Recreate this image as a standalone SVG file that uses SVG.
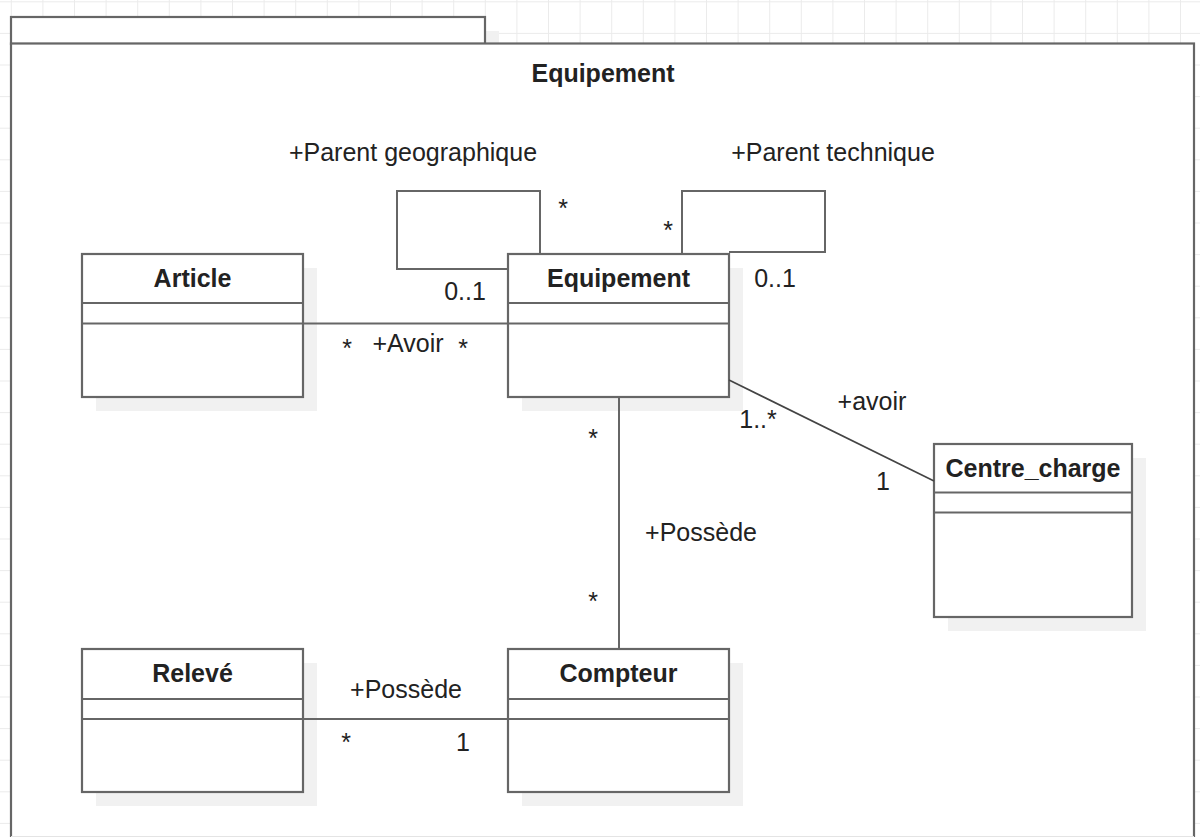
<svg xmlns="http://www.w3.org/2000/svg" width="1200" height="837" viewBox="0 0 1200 837">
  <style>
    .box { fill: #ffffff; stroke: #666666; stroke-width: 2.2; }
    .div { stroke: #666666; stroke-width: 2.2; fill: none; }
    .shadow { fill: #f1f1f1; stroke: none; }
    .conn { stroke: #666666; stroke-width: 2; fill: none; }
    .diag { stroke: #444444; stroke-width: 1.6; fill: none; }
    .hdr { font-family: "Liberation Sans", Arial, sans-serif; font-size: 25px; font-weight: bold; fill: #222222; text-anchor: middle; }
    .lbl { font-family: "Liberation Sans", Arial, sans-serif; font-size: 25px; fill: #222222; text-anchor: middle; }
  </style>
  <defs>
    <pattern id="grid" patternUnits="userSpaceOnUse" x="10.8" y="1.3" width="31.6" height="31.6">
      <path d="M0.5 0 V31.6 M0 0.5 H31.6" stroke="#ebebeb" stroke-width="1" fill="none"/>
    </pattern>
  </defs>

  <rect x="0" y="0" width="1200" height="837" fill="#ffffff"/>
  <rect x="0" y="0" width="1200" height="837" fill="url(#grid)"/>

  <g id="package">
    <rect class="shadow" x="485" y="31" width="14" height="13"/>
    <rect class="box" x="11" y="17" width="474" height="27"/>
    <rect class="box" x="11" y="43.5" width="1183" height="900"/>
    <line x1="11" y1="836.5" x2="1194" y2="836.5" stroke="#e4e4e4" stroke-width="1"/>
    <text class="hdr" x="603" y="82">Equipement</text>
  </g>

  <g id="shadows">
    <rect class="shadow" x="96" y="268" width="221" height="143"/>
    <rect class="shadow" x="522" y="268" width="221" height="143"/>
    <rect class="shadow" x="948" y="458" width="198" height="173"/>
    <rect class="shadow" x="96" y="663" width="221" height="143"/>
    <rect class="shadow" x="522" y="663" width="221" height="143"/>
  </g>

  <g id="article">
    <rect class="box" x="82" y="254" width="221" height="143"/>
    <line class="div" x1="82" y1="303" x2="303" y2="303"/>
    <line class="div" x1="82" y1="323.5" x2="303" y2="323.5"/>
    <text class="hdr" x="192.5" y="287">Article</text>
  </g>

  <g id="equipement">
    <rect class="box" x="508" y="254" width="221" height="143"/>
    <line class="div" x1="508" y1="303" x2="729" y2="303"/>
    <line class="div" x1="508" y1="323.5" x2="729" y2="323.5"/>
    <text class="hdr" x="618.5" y="287">Equipement</text>
  </g>

  <g id="centre_charge">
    <rect class="box" x="934" y="444" width="198" height="173"/>
    <line class="div" x1="934" y1="492.5" x2="1132" y2="492.5"/>
    <line class="div" x1="934" y1="512.5" x2="1132" y2="512.5"/>
    <text class="hdr" x="1033" y="477">Centre_charge</text>
  </g>

  <g id="releve">
    <rect class="box" x="82" y="649" width="221" height="143"/>
    <line class="div" x1="82" y1="699" x2="303" y2="699"/>
    <line class="div" x1="82" y1="719" x2="303" y2="719"/>
    <text class="hdr" x="192.5" y="682">Relevé</text>
  </g>

  <g id="compteur">
    <rect class="box" x="508" y="649" width="221" height="143"/>
    <line class="div" x1="508" y1="699" x2="729" y2="699"/>
    <line class="div" x1="508" y1="719" x2="729" y2="719"/>
    <text class="hdr" x="618.5" y="682">Compteur</text>
  </g>

  <g id="connectors">
    <path class="conn" d="M540 254 V191 H397 V269 H508"/>
    <path class="conn" d="M682 254 V191 H825 V252 H729"/>
    <line class="conn" x1="303" y1="323.5" x2="508" y2="323.5"/>
    <line class="conn" x1="619" y1="397" x2="619" y2="649"/>
    <line class="diag" x1="729" y1="380" x2="934" y2="481"/>
    <line class="conn" x1="303" y1="719" x2="508" y2="719"/>

    <text class="lbl" x="413" y="161">+Parent geographique</text>
    <text class="lbl" x="833" y="161">+Parent technique</text>
    <text class="lbl" x="563" y="217">*</text>
    <text class="lbl" x="668" y="239">*</text>
    <text class="lbl" x="465" y="300">0..1</text>
    <text class="lbl" x="775" y="287">0..1</text>

    <text class="lbl" x="347" y="357">*</text>
    <text class="lbl" x="408" y="352">+Avoir</text>
    <text class="lbl" x="463" y="357">*</text>

    <text class="lbl" x="593" y="447">*</text>
    <text class="lbl" x="701" y="541">+Possède</text>
    <text class="lbl" x="593" y="610">*</text>

    <text class="lbl" x="872" y="410">+avoir</text>
    <text class="lbl" x="758" y="428">1..*</text>
    <text class="lbl" x="883" y="490">1</text>

    <text class="lbl" x="406" y="698">+Possède</text>
    <text class="lbl" x="346" y="751">*</text>
    <text class="lbl" x="463" y="751">1</text>
  </g>
</svg>
